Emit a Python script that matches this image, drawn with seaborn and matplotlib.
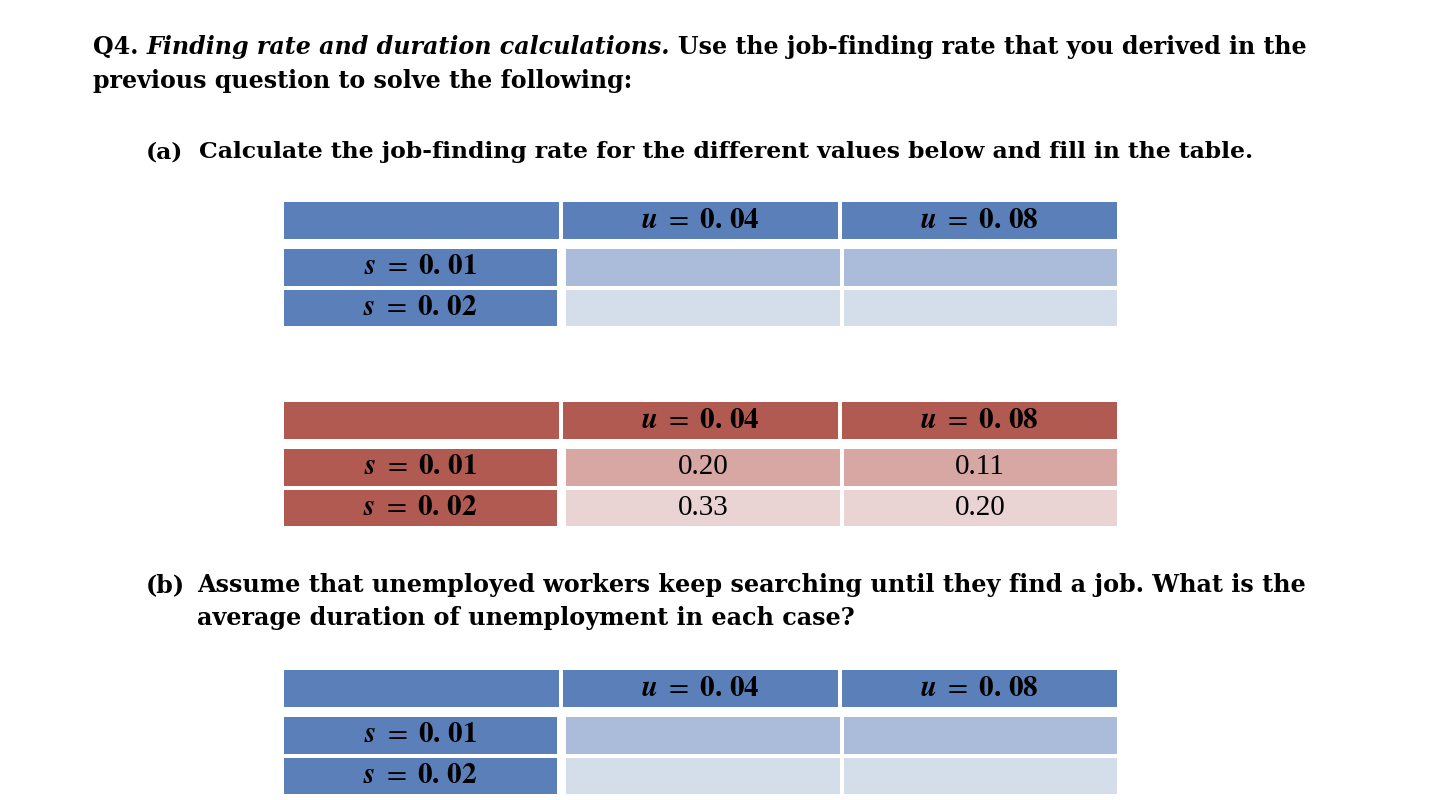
import numpy as np
import matplotlib
matplotlib.use('Agg')
import matplotlib.pyplot as plt
import seaborn as sns
from matplotlib.colors import ListedColormap

sns.set_theme(style='white')
plt.rcParams['font.family'] = ['DejaVu Serif']
plt.rcParams['mathtext.fontset'] = 'stix'
plt.rcParams['text.color'] = 'black'

# Data
u_values = [0.04, 0.08]
s_values = [0.01, 0.02]
finding_rate = [[0.20, 0.11],
                [0.33, 0.20]]

title_1 = [('Q4.', 'normal'), ('Finding rate and duration calculations.', 'italic'),
           ('Use the job-finding rate that you derived in the', 'normal')]
title_2 = 'previous question to solve the following:'
part_a = 'Calculate the job-finding rate for the different values below and fill in the table.'
part_b_1 = 'Assume that unemployed workers keep searching until they find a job. What is the'
part_b_2 = 'average duration of unemployment in each case?'

blue = ['#5B7FB8', '#ABBCDB', '#D4DEEA']
red = ['#B15A51', '#D7A7A4', '#E9D3D3']

W, H = 1434, 800
fig = plt.figure(figsize=(W / 100, H / 100), dpi=100)
bg = fig.add_axes([0, 0, 1, 1])
bg.set_xlim(0, W)
bg.set_ylim(H, 0)
bg.axis('off')
renderer = fig.canvas.get_renderer()

SERIF = 'DejaVu Serif'


def text_width(s, size, style='normal'):
    t = bg.text(0, 0, s, fontsize=size, fontweight='bold', fontstyle=style, family=SERIF)
    w = t.get_window_extent(renderer).width
    t.remove()
    return w


def pieces_width(pieces, size):
    space = text_width('a a', size) - text_width('aa', size)
    return sum(text_width(s, size, st) for s, st in pieces) + space * (len(pieces) - 1), space


def fit_size(pieces, width, base=20):
    w, _ = pieces_width(pieces, base)
    return base * width / w


def write(pieces, x, y, size):
    _, space = pieces_width(pieces, size)
    for s, st in pieces:
        bg.text(x, y, s, fontsize=size, fontweight='bold', fontstyle=st, family=SERIF,
                va='baseline', color='black')
        x += text_width(s, size, st) + space


size1 = fit_size(title_1, 1214)
write(title_1, 93, 54, size1)
write([(title_2, 'normal')], 93, 88, size1)

size_a = fit_size([(part_a, 'normal')], 1058)
write([('(a)', 'normal')], 146, 158, size_a)
write([(part_a, 'normal')], 199, 158, size_a)

size_b = fit_size([(part_b_1, 'normal')], 1110)
write([('(b)', 'normal')], 146, 592, size_b)
write([(part_b_1, 'normal')], 197, 592, size_b)
write([(part_b_2, 'normal')], 197, 625, size_b)

GAP = 3.5


def cells(box, shade, colors, labels, fs, family='Liberation Serif'):
    x0, y0, x1, y1 = box
    p = GAP / 2
    ax = fig.add_axes([(x0 - p) / W, 1 - (y1 + p) / H, (x1 - x0 + 2 * p) / W, (y1 - y0 + 2 * p) / H])
    sns.heatmap(np.array(shade), cmap=ListedColormap(colors), vmin=0, vmax=max(len(colors) - 1, 1),
                cbar=False, annot=np.array(labels, dtype=object), fmt='',
                linewidths=GAP * 0.72, linecolor='white',
                annot_kws=dict(fontsize=fs, color='black', family=family),
                xticklabels=False, yticklabels=False, ax=ax)
    ax.set_axis_off()


def math_lab(var, v):
    whole, frac = ('%.2f' % v).split('.')
    return r'$\mathbfit{%s}\ =\ \mathbf{%s.}\,\mathbf{%s}$' % (var, whole, frac)


def table(top, pal, values=None):
    head = [''] + [math_lab('u', u) for u in u_values]
    cells((284, top, 1117, top + 37), [[0, 0, 0]], [pal[0]], [head], 21)
    rows = [[math_lab('s', s)] for s in s_values]
    cells((284, top + 47, 557, top + 124), [[0], [0]], [pal[0]], rows, 21)
    if values is None:
        body = [['', ''], ['', '']]
    else:
        body = [['%.2f' % v for v in r] for r in values]
    cells((566, top + 47, 1117, top + 124), [[0, 0], [1, 1]], pal[1:], body, 21)


table(202, blue)
table(402, red, finding_rate)
table(670, blue)

fig.savefig('out.png', dpi=100)
